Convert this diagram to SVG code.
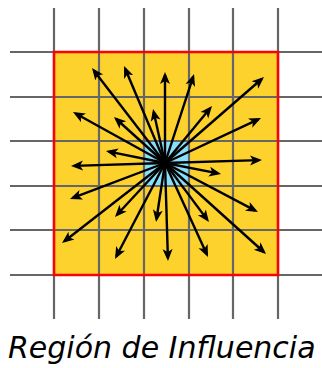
<svg xmlns="http://www.w3.org/2000/svg" width="322" height="368" viewBox="0 0 322 368">
<style>
.grid{stroke:#666;stroke-width:2.2;fill:none}
.arr{stroke:#000;stroke-width:2.4;fill:none;marker-end:url(#ah)}
.lbl{font-family:"DejaVu Sans",sans-serif;font-style:italic;font-size:30px;fill:#000}
</style>
<defs>
<marker id="ah" viewBox="0 -6 13 12" refX="9" refY="0" markerWidth="13" markerHeight="12" orient="auto" markerUnits="userSpaceOnUse">
<path d="M12,0 L0,-5 L3,0 L0,5 z" fill="#000"/>
</marker>
</defs>
<g id="region">
<rect x="54" y="52" width="224" height="223" fill="#fdd22c"/>
<rect x="144" y="141" width="45" height="45" fill="#87e0fa"/>
</g>
<g id="grid" class="grid">
<line x1="54" y1="8" x2="54" y2="319"/>
<line x1="99" y1="8" x2="99" y2="319"/>
<line x1="144" y1="8" x2="144" y2="319"/>
<line x1="189" y1="8" x2="189" y2="319"/>
<line x1="233" y1="8" x2="233" y2="319"/>
<line x1="278" y1="8" x2="278" y2="319"/>
<line x1="10" y1="52" x2="322" y2="52"/>
<line x1="10" y1="97" x2="322" y2="97"/>
<line x1="10" y1="141" x2="322" y2="141"/>
<line x1="10" y1="186" x2="322" y2="186"/>
<line x1="10" y1="230" x2="322" y2="230"/>
<line x1="10" y1="275" x2="322" y2="275"/>
</g>
<g id="border">
<rect x="54" y="52" width="224" height="223" fill="none" stroke="#ff0000" stroke-width="2.5"/>
</g>
<g id="connectors" class="arr">
<line x1="165" y1="163" x2="93.8" y2="70.4"/>
<line x1="165" y1="163" x2="125.2" y2="68.8"/>
<line x1="165" y1="163" x2="165" y2="75"/>
<line x1="165" y1="163" x2="193.1" y2="76.9"/>
<line x1="165" y1="163" x2="261.7" y2="79"/>
<line x1="165" y1="163" x2="153.7" y2="111.9"/>
<line x1="165" y1="163" x2="116.2" y2="119"/>
<line x1="165" y1="163" x2="210.1" y2="108.3"/>
<line x1="165" y1="163" x2="258.3" y2="119.3"/>
<line x1="165" y1="163" x2="75.6" y2="113.5"/>
<line x1="165" y1="163" x2="108.9" y2="151.6"/>
<line x1="165" y1="163" x2="74" y2="165.9"/>
<line x1="165" y1="163" x2="259" y2="160.1"/>
<line x1="165" y1="163" x2="218.1" y2="173.4"/>
<line x1="165" y1="163" x2="72.8" y2="197.9"/>
<line x1="165" y1="163" x2="117" y2="214.8"/>
<line x1="165" y1="163" x2="156.5" y2="219"/>
<line x1="165" y1="163" x2="207.2" y2="219.6"/>
<line x1="165" y1="163" x2="255.3" y2="210.6"/>
<line x1="165" y1="163" x2="64.4" y2="241.2"/>
<line x1="165" y1="163" x2="116.4" y2="256.3"/>
<line x1="165" y1="163" x2="167.9" y2="258"/>
<line x1="165" y1="163" x2="206.8" y2="254.3"/>
<line x1="165" y1="163" x2="263.8" y2="252"/>
</g>
<g id="label">
<text class="lbl" x="8" y="358">Región de Influencia</text>
</g>
</svg>
